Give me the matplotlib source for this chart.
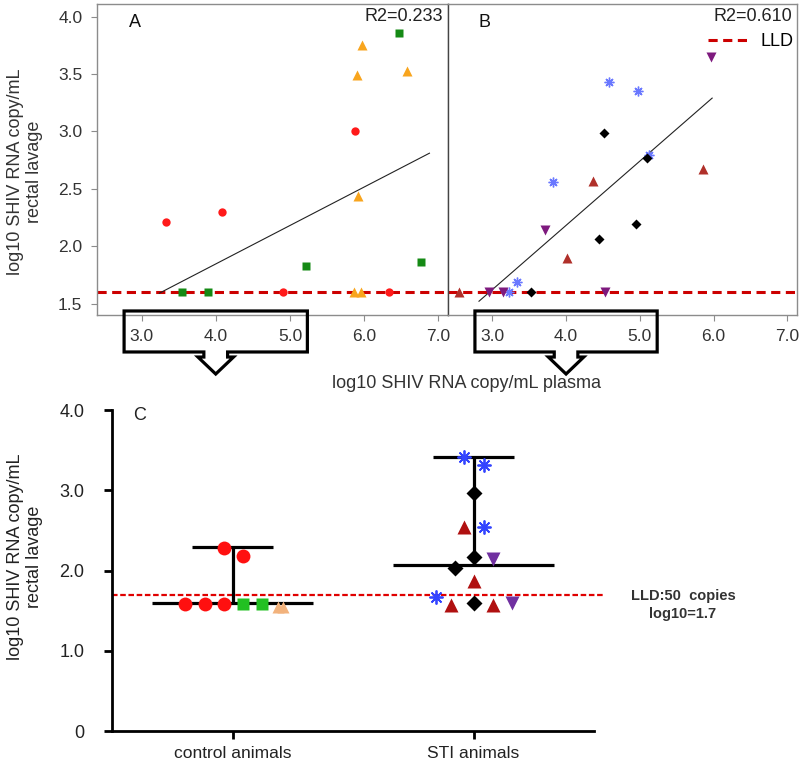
"""Rectal lavage vs plasma SHIV RNA: scatter panels A/B and dot plot C."""
import matplotlib

matplotlib.use("Agg")
import matplotlib.pyplot as plt
import matplotlib.transforms as mtransforms
from matplotlib.lines import Line2D
from matplotlib.patches import Polygon

plt.rcParams["font.family"] = ["Liberation Sans", "DejaVu Sans"]

# ---- panel A: control animals (plasma vs rectal lavage, log10) ----
a_red_x = [3.33, 4.08, 5.88, 4.91, 6.34]
a_red_y = [2.21, 2.30, 3.00, 1.60, 1.60]
a_green_x = [6.47, 5.21, 6.77, 3.54, 3.89]
a_green_y = [3.86, 1.83, 1.86, 1.60, 1.60]
a_orange_x = [5.97, 5.91, 6.58, 5.92, 5.86, 5.96]
a_orange_y = [3.75, 3.49, 3.53, 2.44, 1.60, 1.60]
a_fit_x = [3.24, 6.88]
a_fit_y = [1.59, 2.81]
a_r2 = "R2=0.233"

# ---- panel B: STI animals ----
b_purple_x = [5.96, 3.72, 2.95, 3.14, 4.53]
b_purple_y = [3.65, 2.14, 1.60, 1.60, 1.60]
b_blue_x = [4.58, 4.97, 3.82, 3.34, 3.23, 5.12]
b_blue_y = [3.43, 3.35, 2.56, 1.69, 1.60, 2.79]
b_black_x = [4.52, 5.10, 4.95, 4.44, 3.52]
b_black_y = [2.99, 2.77, 2.19, 2.06, 1.60]
b_darkred_x = [4.36, 4.01, 5.86, 2.55]
b_darkred_y = [2.57, 1.90, 2.67, 1.60]
b_fit_x = [2.82, 5.98]
b_fit_y = [1.52, 3.29]
b_r2 = "R2=0.610"

lld_ab = 1.60
ab_xticks = [3.0, 4.0, 5.0, 6.0, 7.0]
ab_yticks = [1.5, 2.0, 2.5, 3.0, 3.5, 4.0]

# ---- panel C: per group values (group index, jitter, value) ----
c_groups = ["control animals", "STI animals"]
c_red_g = [1, 1, 1, 1, 1]
c_red_dx = [-0.196, -0.115, -0.035, -0.035, 0.044]
c_red_y = [1.58, 1.58, 1.58, 2.28, 2.18]
c_green_g = [1, 1]
c_green_dx = [0.044, 0.122]
c_green_y = [1.58, 1.58]
c_peach_g = [1, 1]
c_peach_dx = [0.19, 0.21]
c_peach_y = [1.55, 1.55]
c_blue_g = [2, 2, 2, 2]
c_blue_dx = [-0.038, 0.045, 0.045, -0.156]
c_blue_y = [3.41, 3.31, 2.54, 1.67]
c_black_g = [2, 2, 2, 2]
c_black_dx = [0.0, 0.0, -0.077, 0.0]
c_black_y = [2.97, 2.17, 2.03, 1.59]
c_darkred_g = [2, 2, 2, 2]
c_darkred_dx = [-0.038, 0.0, -0.095, 0.082]
c_darkred_y = [2.54, 1.87, 1.57, 1.57]
c_purple_g = [2, 2]
c_purple_dx = [0.082, 0.161]
c_purple_y = [2.14, 1.60]
c_median = [1.60, 2.07]
c_upper = [2.29, 3.41]
lld_c = 1.69

GRAY = "#8c8c8c"
TXT = "#333333"
W, H = 800, 765


def px_rect(x0, y0, x1, y1):
    # pixel box (top-left origin) -> figure fraction rect
    return [x0 / W, 1 - y1 / H, (x1 - x0) / W, (y1 - y0) / H]


def style_ab(ax, show_y):
    ax.set_xlim(2.40, 7.13)
    ax.set_ylim(1.40, 4.11)
    for sp in ax.spines.values():
        sp.set_color(GRAY)
        sp.set_linewidth(1.0)
    ax.set_xticks(ab_xticks)
    ax.set_xticklabels([f"{v:.1f}" for v in ab_xticks])
    ax.tick_params(axis="x", direction="out", length=4.5, color=GRAY,
                   labelcolor=TXT, labelsize=12.5, pad=5.5)
    if show_y:
        ax.set_yticks(ab_yticks)
        ax.set_yticklabels([f"{v:.1f}" for v in ab_yticks])
        ax.tick_params(axis="y", direction="out", length=4.5, color=GRAY,
                       labelcolor=TXT, labelsize=12.5, pad=6)
    else:
        ax.set_yticks([])
    ax.axhline(lld_ab, color="#cc0000", lw=2.2, ls=(0, (3, 1.8)), zorder=2)


def callout(fig, ax, center=4.0, half=1.235, stem=0.16, head=0.24):
    # box round the 3.0-5.0 tick labels with a hollow arrow pointing down
    tr = mtransforms.blended_transform_factory(ax.transData, fig.transFigure)
    top, bot, neck, tip = 0.5935, 0.5399, 0.5333, 0.5111
    c = center
    pts = [(c - half, top), (c + half, top), (c + half, bot), (c + stem, bot),
           (c + stem, neck), (c + head, neck), (c, tip), (c - head, neck),
           (c - stem, neck), (c - stem, bot), (c - half, bot)]
    poly = Polygon(pts, closed=True, fill=False, ec="black", lw=2.3,
                   joinstyle="miter", transform=tr, clip_on=False, zorder=5)
    fig.add_artist(poly)


fig = plt.figure(figsize=(W / 100, H / 100), dpi=100)

# panel A
ax_a = fig.add_axes(px_rect(97, 4, 448, 315))
style_ab(ax_a, True)
ax_a.plot(a_fit_x, a_fit_y, color="#222222", lw=0.8, zorder=3)
ax_a.plot(a_red_x, a_red_y, "o", color="#ff1a1a", ms=6, mec="none", zorder=4)
ax_a.plot(a_green_x, a_green_y, "s", color="#158a15", ms=5.5, mec="none", zorder=4)
ax_a.plot(a_orange_x, a_orange_y, "^", color="#f8a51e", ms=7, mec="none", zorder=4)
ax_a.text(0.108, 0.94, "A", transform=ax_a.transAxes, ha="center", va="center",
          fontsize=13, color="#111111")
ax_a.text(0.986, 0.96, a_r2, transform=ax_a.transAxes, ha="right", va="center",
          fontsize=13, color="#222222")

# panel B
ax_b = fig.add_axes(px_rect(448, 4, 797, 315))
style_ab(ax_b, False)
ax_b.spines["left"].set_color("#444444")
ax_b.plot(b_fit_x, b_fit_y, color="#222222", lw=0.8, zorder=3)
ax_b.plot(b_darkred_x, b_darkred_y, "^", color="#b0302a", ms=6.5, mec="none", zorder=4)
ax_b.plot(b_blue_x, b_blue_y, marker=(8, 2, 0), ls="none", color="#6a78ff",
          ms=7, mew=1.0, zorder=4)
ax_b.plot(b_black_x, b_black_y, "D", color="black", ms=5, mec="none", zorder=4)
ax_b.plot(b_purple_x, b_purple_y, "v", color="#7e1a7e", ms=7.5, mec="none", zorder=4)
ax_b.text(0.106, 0.94, "B", transform=ax_b.transAxes, ha="center", va="center",
          fontsize=13, color="#111111")
ax_b.text(0.986, 0.96, b_r2, transform=ax_b.transAxes, ha="right", va="center",
          fontsize=13, color="#222222")
lld_handle = Line2D([], [], color="#cc0000", lw=2.2, ls=(0, (3, 1.8)))
ax_b.legend([lld_handle], ["LLD"], loc="upper right", frameon=False,
            fontsize=13, handlelength=2.3, handletextpad=0.6,
            bbox_to_anchor=(1.02, 0.94), borderaxespad=0.2)

callout(fig, ax_a)
callout(fig, ax_b)

ylab = "log10 SHIV RNA copy/mL\nrectal lavage"
fig.text(25 / W, 1 - 172 / H, ylab, rotation=90, ha="center", va="center",
         fontsize=13, color=TXT, multialignment="center")
fig.text(467 / W, 1 - 383 / H, "log10 SHIV RNA copy/mL plasma", ha="center",
         va="center", fontsize=13, color=TXT)

# panel C
ax_c = fig.add_axes(px_rect(112, 410, 594, 731))
ax_c.set_xlim(0.5, 2.5)
ax_c.set_ylim(0, 4.0)
for side in ("top", "right"):
    ax_c.spines[side].set_visible(False)
for side in ("left", "bottom"):
    ax_c.spines[side].set_linewidth(2.0)
ax_c.set_yticks([0, 1, 2, 3, 4])
ax_c.set_yticklabels(["0", "1.0", "2.0", "3.0", "4.0"])
ax_c.set_xticks([1, 2])
ax_c.set_xticklabels(c_groups)
ax_c.tick_params(axis="y", length=6, width=2, labelsize=13, pad=14, labelcolor="#222222")
ax_c.tick_params(axis="x", length=6, width=2, labelsize=12.5, pad=5, labelcolor="#222222")

ax_c.plot([0.5, 2.54], [lld_c, lld_c], color="#e00000", lw=1.6, ls=(0, (2.5, 1.2)),
          clip_on=False, zorder=2)

pos = [1, 2]
ax_c.hlines(c_median, [p - 0.334 for p in pos], [p + 0.334 for p in pos],
            color="black", lw=2.3, zorder=3)
ax_c.hlines(c_upper, [p - 0.17 for p in pos], [p + 0.17 for p in pos],
            color="black", lw=2.3, zorder=3)
ax_c.vlines(pos, c_median, c_upper, color="black", lw=2.3, zorder=3)


def jit(groups, dx):
    return [g + d for g, d in zip(groups, dx)]


ax_c.plot(jit(c_red_g, c_red_dx), c_red_y, "o", color="#ff1010", ms=10, mec="none", zorder=4)
ax_c.plot(jit(c_green_g, c_green_dx), c_green_y, "s", color="#22c022", ms=8.5, mec="none", zorder=4)
ax_c.plot(jit(c_peach_g, c_peach_dx), c_peach_y, "^", color="#f2b27c", ms=8.5, mec="none", zorder=4)
ax_c.plot(jit(c_blue_g, c_blue_dx), c_blue_y, marker=(8, 2, 0), ls="none",
          color="#3344ff", ms=10, mew=1.3, zorder=4)
ax_c.plot(jit(c_darkred_g, c_darkred_dx), c_darkred_y, "^", color="#b01010", ms=10, mec="none", zorder=4)
ax_c.plot(jit(c_black_g, c_black_dx), c_black_y, "D", color="black", ms=8, mec="none", zorder=5)
ax_c.plot(jit(c_purple_g, c_purple_dx), c_purple_y, "v", color="#7030a0", ms=10, mec="none", zorder=4)

fig.text(140 / W, 1 - 416 / H, "C", ha="center", va="center", fontsize=13, color="#222222")
fig.text(25 / W, 1 - 557 / H, ylab, rotation=90, ha="center", va="center",
         fontsize=13, color="#222222", multialignment="center")
fig.text(683 / W, 1 - 596 / H, "LLD:50  copies", ha="center", va="center",
         fontsize=10.5, fontweight="bold", color=TXT)
fig.text(683 / W, 1 - 614 / H, "log10=1.7", ha="center", va="center",
         fontsize=10.5, fontweight="bold", color=TXT)

fig.savefig("out.png", dpi=100)
